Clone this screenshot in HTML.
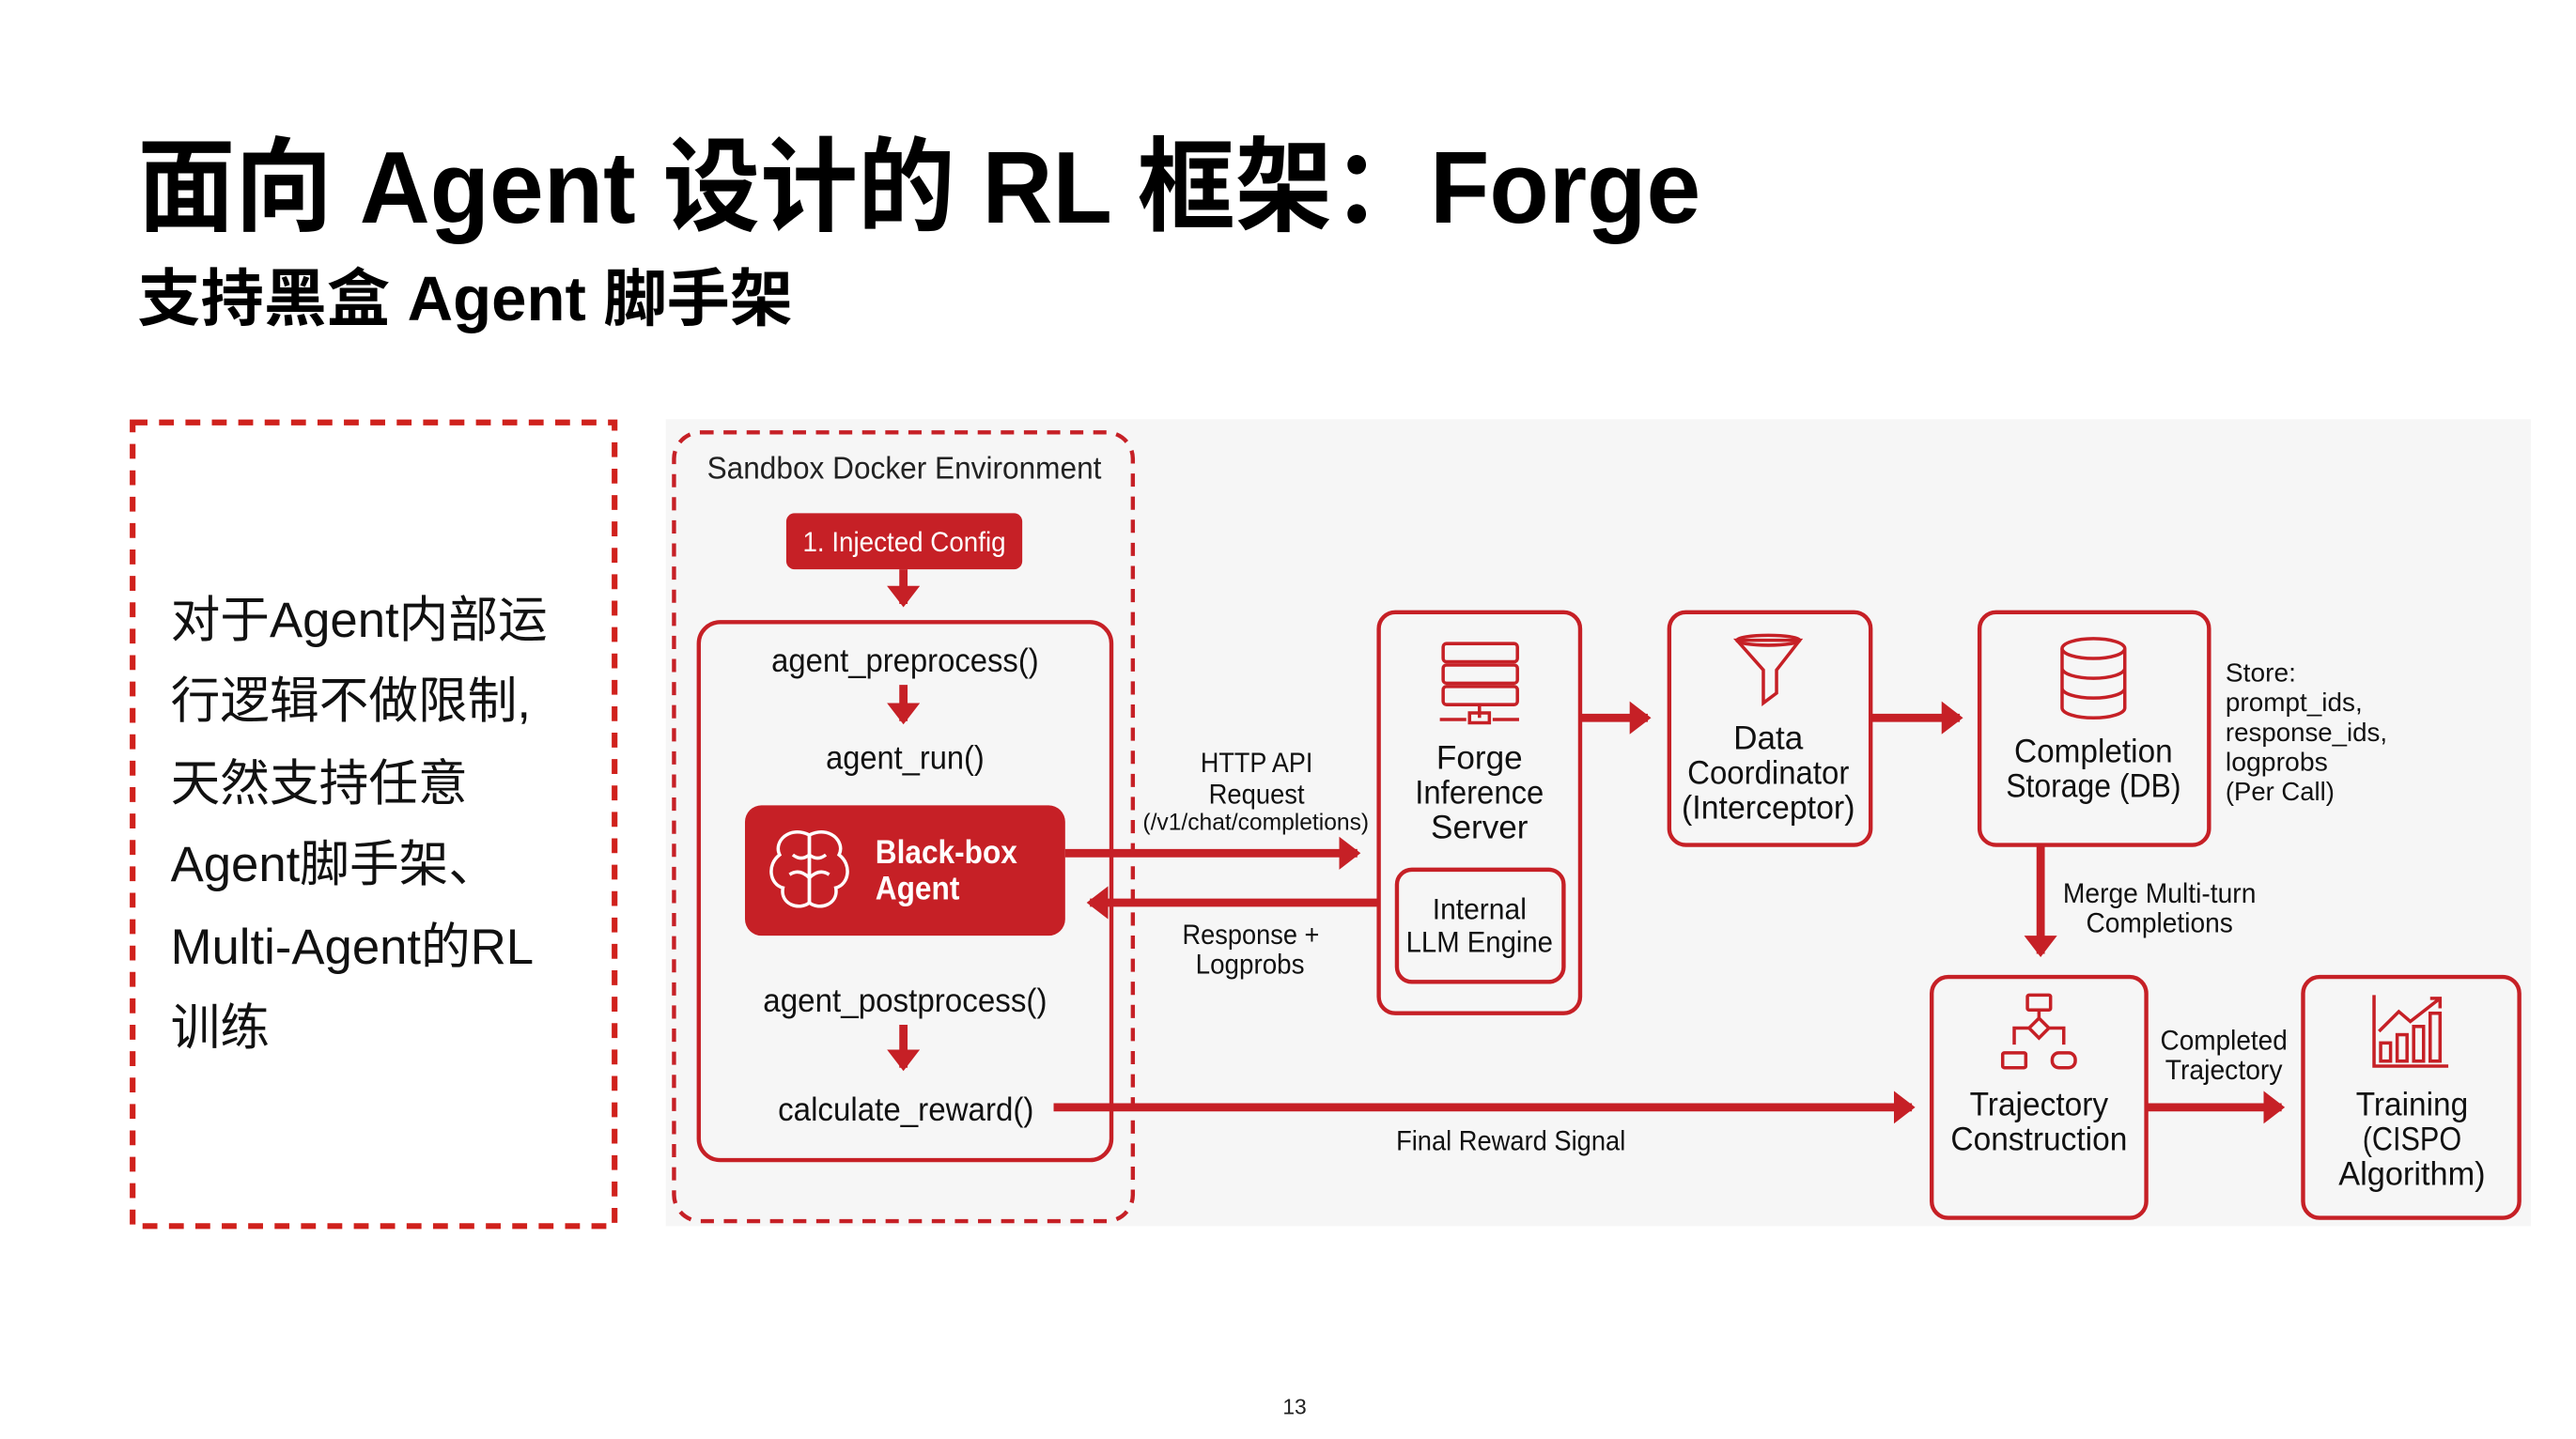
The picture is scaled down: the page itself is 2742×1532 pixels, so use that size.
<!DOCTYPE html>
<html><head><meta charset="utf-8"><style>
html,body{margin:0;padding:0;background:#fff;}
svg{display:block}
text{font-family:"Liberation Sans","Noto Sans CJK SC",sans-serif;}
</style></head><body>
<svg width="2742" height="1532" viewBox="0 0 1560 872" xmlns="http://www.w3.org/2000/svg">
<defs>
<marker id="ah" markerWidth="4" markerHeight="4" refX="2.2" refY="2" orient="auto" markerUnits="strokeWidth">
<path d="M0,0 L2.6,2 L0,4 z" fill="#c62026"/></marker>
</defs>
<rect width="1560" height="872" fill="#fff"/>
<text x="83" y="135" font-size="62" font-weight="bold" fill="#000" textLength="947" lengthAdjust="spacingAndGlyphs">面向 Agent 设计的 RL 框架：Forge</text>
<text x="83" y="194" font-size="38" font-weight="bold" fill="#000" textLength="397" lengthAdjust="spacingAndGlyphs">支持黑盒 Agent 脚手架</text>

<rect x="80" y="256" width="292" height="487" fill="none" stroke="#d0211c" stroke-width="3.5" stroke-dasharray="9,7"/>
<g font-size="30" fill="#111">
<text x="103" y="386">对于Agent内部运</text>
<text x="103" y="435">行逻辑不做限制,</text>
<text x="103" y="485">天然支持任意</text>
<text x="103" y="534">Agent脚手架、</text>
<text x="103" y="584">Multi-Agent的RL</text>
<text x="103" y="633">训练</text>
</g>

<rect x="403" y="254" width="1130" height="489" fill="#f6f6f6"/>
<rect x="408" y="262" width="278" height="478" rx="16" fill="none" stroke="#c62026" stroke-width="2.5" stroke-dasharray="8,6"/>
<text x="428" y="290" font-size="19" fill="#222" textLength="239" lengthAdjust="spacingAndGlyphs">Sandbox Docker Environment</text>
<rect x="476" y="311" width="143" height="34" rx="5" fill="#c62026"/>
<text x="486" y="334" font-size="17" fill="#fff" textLength="123" lengthAdjust="spacingAndGlyphs">1. Injected Config</text>
<line x1="547" y1="345" x2="547" y2="366" stroke="#c62026" stroke-width="5" marker-end="url(#ah)"/>
<rect x="423" y="377" width="250" height="326" rx="13" fill="none" stroke="#c62026" stroke-width="2.5"/>
<g font-size="20" fill="#111">
<text x="467" y="407" textLength="162" lengthAdjust="spacingAndGlyphs">agent_preprocess()</text>
<text x="500" y="466" textLength="96" lengthAdjust="spacingAndGlyphs">agent_run()</text>
<text x="462" y="613" textLength="172" lengthAdjust="spacingAndGlyphs">agent_postprocess()</text>
<text x="471" y="679" textLength="155" lengthAdjust="spacingAndGlyphs">calculate_reward()</text>
</g>
<line x1="547" y1="415" x2="547" y2="437" stroke="#c62026" stroke-width="5" marker-end="url(#ah)"/>
<line x1="547" y1="621" x2="547" y2="647" stroke="#c62026" stroke-width="5" marker-end="url(#ah)"/>
<rect x="451" y="488" width="194" height="79" rx="10" fill="#c62026"/>
<g fill="none" stroke="#fff" stroke-width="2">
<path d="M490,506 C478,500 468,510 472,518 C464,524 466,536 474,538 C472,548 484,552 490,547 Z"/>
<path d="M490,506 C502,500 512,510 508,518 C516,524 514,536 506,538 C508,548 496,552 490,547 Z"/>
<path d="M480,518 q5,4 10,0 M478,530 q6,-4 12,2 M500,518 q-5,4 -10,0 M502,530 q-6,-4 -12,2"/>
</g>
<text x="530" y="523" font-size="20" font-weight="bold" fill="#fff" textLength="86" lengthAdjust="spacingAndGlyphs">Black-box</text>
<text x="530" y="545" font-size="20" font-weight="bold" fill="#fff" textLength="51" lengthAdjust="spacingAndGlyphs">Agent</text>

<line x1="645" y1="517" x2="822" y2="517" stroke="#c62026" stroke-width="5" marker-end="url(#ah)"/>
<line x1="835" y1="547" x2="660" y2="547" stroke="#c62026" stroke-width="5" marker-end="url(#ah)"/>
<g fill="#111">
<text x="727" y="468" font-size="17" textLength="68" lengthAdjust="spacingAndGlyphs">HTTP API</text>
<text x="732" y="487" font-size="17" textLength="58" lengthAdjust="spacingAndGlyphs">Request</text>
<text x="692" y="503" font-size="14" textLength="137" lengthAdjust="spacingAndGlyphs">(/v1/chat/completions)</text>
<text x="716" y="572" font-size="17" textLength="83" lengthAdjust="spacingAndGlyphs">Response +</text>
<text x="724" y="590" font-size="17" textLength="66" lengthAdjust="spacingAndGlyphs">Logprobs</text>
</g>

<rect x="835" y="371" width="122" height="243" rx="10" fill="none" stroke="#c62026" stroke-width="2.5"/>
<g fill="none" stroke="#c62026" stroke-width="2">
<rect x="874" y="390" width="45" height="11" rx="2"/><rect x="874" y="403" width="45" height="11" rx="2"/><rect x="874" y="416" width="45" height="11" rx="2"/>
<path d="M896,427 v8 M872,436 h16 M904,436 h16 M890,432 h12 v6 h-12 z"/>
</g>
<g text-anchor="middle" font-size="20" fill="#111">
<text x="896" y="466">Forge</text><text x="896" y="487" textLength="78" lengthAdjust="spacingAndGlyphs">Inference</text><text x="896" y="508">Server</text>
</g>
<rect x="846" y="527" width="101" height="68" rx="9" fill="none" stroke="#c62026" stroke-width="2.5"/>
<text x="896" y="557" font-size="18" text-anchor="middle" fill="#111" textLength="57" lengthAdjust="spacingAndGlyphs">Internal</text>
<text x="896" y="577" font-size="18" text-anchor="middle" fill="#111" textLength="89" lengthAdjust="spacingAndGlyphs">LLM Engine</text>

<line x1="957" y1="435" x2="998" y2="435" stroke="#c62026" stroke-width="5" marker-end="url(#ah)"/>
<rect x="1011" y="371" width="122" height="141" rx="10" fill="none" stroke="#c62026" stroke-width="2.5"/>
<path d="M1052,388 h38 l-14,18 v14 l-8,6 v-20 z" fill="none" stroke="#c62026" stroke-width="2"/>
<ellipse cx="1071" cy="388" rx="19" ry="3" fill="none" stroke="#c62026" stroke-width="2"/>
<g text-anchor="middle" font-size="20" fill="#111">
<text x="1071" y="454">Data</text><text x="1071" y="475" textLength="98" lengthAdjust="spacingAndGlyphs">Coordinator</text><text x="1071" y="496" textLength="105" lengthAdjust="spacingAndGlyphs">(Interceptor)</text>
</g>
<line x1="1133" y1="435" x2="1187" y2="435" stroke="#c62026" stroke-width="5" marker-end="url(#ah)"/>
<rect x="1199" y="371" width="139" height="141" rx="10" fill="none" stroke="#c62026" stroke-width="2.5"/>
<g fill="none" stroke="#c62026" stroke-width="2">
<ellipse cx="1268" cy="393" rx="19" ry="6"/>
<path d="M1249,393 v36 a19,6 0 0 0 38,0 v-36 M1249,405 a19,6 0 0 0 38,0 M1249,417 a19,6 0 0 0 38,0"/>
</g>
<text x="1268" y="462" font-size="20" text-anchor="middle" fill="#111" textLength="96" lengthAdjust="spacingAndGlyphs">Completion</text>
<text x="1268" y="483" font-size="20" text-anchor="middle" fill="#111" textLength="106" lengthAdjust="spacingAndGlyphs">Storage (DB)</text>
<g font-size="16" fill="#111">
<text x="1348" y="413">Store:</text><text x="1348" y="431" textLength="83" lengthAdjust="spacingAndGlyphs">prompt_ids,</text><text x="1348" y="449" textLength="98" lengthAdjust="spacingAndGlyphs">response_ids,</text><text x="1348" y="467" textLength="62" lengthAdjust="spacingAndGlyphs">logprobs</text><text x="1348" y="485" textLength="66" lengthAdjust="spacingAndGlyphs">(Per Call)</text>
</g>
<line x1="1236" y1="512" x2="1236" y2="578" stroke="#c62026" stroke-width="5" marker-end="url(#ah)"/>
<text x="1308" y="547" font-size="17" text-anchor="middle" fill="#111" textLength="117" lengthAdjust="spacingAndGlyphs">Merge Multi-turn</text>
<text x="1308" y="565" font-size="17" text-anchor="middle" fill="#111" textLength="89" lengthAdjust="spacingAndGlyphs">Completions</text>

<rect x="1170" y="592" width="130" height="146" rx="10" fill="none" stroke="#c62026" stroke-width="2.5"/>
<g fill="none" stroke="#c62026" stroke-width="2">
<rect x="1228" y="603" width="14" height="9" rx="1"/>
<path d="M1235,612 v5 M1229,623 l6,-6 l6,6 l-6,6 z M1229,623 h-9 v10 M1241,623 h9 v10"/>
<rect x="1213" y="638" width="14" height="9" rx="1"/><rect x="1243" y="638" width="14" height="9" rx="4"/>
</g>
<text x="1235" y="676" font-size="20" text-anchor="middle" fill="#111" textLength="84" lengthAdjust="spacingAndGlyphs">Trajectory</text>
<text x="1235" y="697" font-size="20" text-anchor="middle" fill="#111" textLength="107" lengthAdjust="spacingAndGlyphs">Construction</text>
<line x1="638" y1="671" x2="1158" y2="671" stroke="#c62026" stroke-width="5" marker-end="url(#ah)"/>
<text x="915" y="697" font-size="17" text-anchor="middle" fill="#111" textLength="139" lengthAdjust="spacingAndGlyphs">Final Reward Signal</text>
<line x1="1300" y1="671" x2="1382" y2="671" stroke="#c62026" stroke-width="5" marker-end="url(#ah)"/>
<text x="1347" y="636" font-size="17" text-anchor="middle" fill="#111" textLength="77" lengthAdjust="spacingAndGlyphs">Completed</text>
<text x="1347" y="654" font-size="17" text-anchor="middle" fill="#111" textLength="71" lengthAdjust="spacingAndGlyphs">Trajectory</text>
<rect x="1395" y="592" width="131" height="146" rx="10" fill="none" stroke="#c62026" stroke-width="2.5"/>
<g fill="none" stroke="#c62026" stroke-width="2">
<path d="M1438,603 v43 h45"/>
<rect x="1442" y="632" width="6" height="11"/><rect x="1452" y="627" width="6" height="16"/><rect x="1462" y="622" width="6" height="21"/><rect x="1472" y="614" width="6" height="29"/>
<path d="M1441,625 l12,-12 l7,6 l18,-14 M1472,605 h6 v6"/>
</g>
<g text-anchor="middle" font-size="20" fill="#111">
<text x="1461" y="676" textLength="68" lengthAdjust="spacingAndGlyphs">Training</text><text x="1461" y="697" textLength="60" lengthAdjust="spacingAndGlyphs">(CISPO</text><text x="1461" y="718" textLength="89" lengthAdjust="spacingAndGlyphs">Algorithm)</text>
</g>
<text x="784" y="857" font-size="13" text-anchor="middle" fill="#222">13</text>
</svg>
</body></html>
